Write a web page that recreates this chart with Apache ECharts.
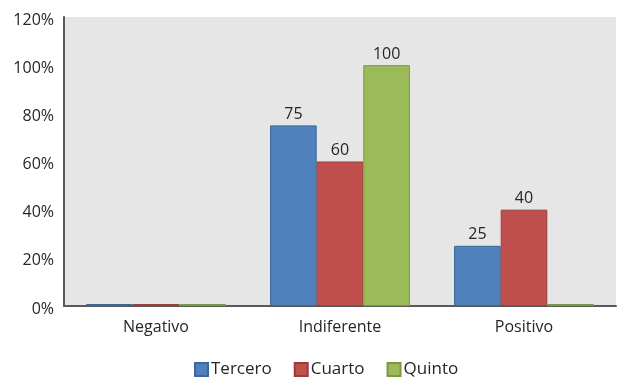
<!DOCTYPE html>
<html>
<head>
<meta charset="utf-8">
<script src="https://cdn.jsdelivr.net/npm/echarts@6/dist/echarts.min.js"></script>
<style>
  html, body { margin: 0; padding: 0; background: #fff; }
  #chart { width: 617px; height: 378px; }
</style>
</head>
<body>
<div id="chart"></div>
<script>
const categories = ['Negativo', 'Indiferente', 'Positivo']
const tercero = [0, 75, 25]
const cuarto = [0, 60, 40]
const quinto = [0, 100, 0]

const FONT = 'Open Sans'
const TEXT = '#262626'

const chart = echarts.init(document.getElementById('chart'))

const makeSeries = (name, data, color, border) => ({
  name,
  type: 'bar',
  data,
  barGap: '0%',
  barCategoryGap: '24%',
  barMinHeight: 2,
  itemStyle: { color, borderColor: border, borderWidth: 1 },
  label: {
    show: true,
    position: 'top',
    distance: 3,
    color: TEXT,
    fontFamily: FONT,
    fontSize: 16,
    formatter: (p) => (p.value === 0 ? '' : p.value)
  }
})

chart.setOption({
  animation: false,
  textStyle: { fontFamily: FONT },
  grid: {
    left: 64,
    right: 1,
    top: 17,
    bottom: 72,
    show: true,
    backgroundColor: '#e6e6e6',
    borderWidth: 0
  },
  legend: {
    top: 356,
    left: 189,
    itemWidth: 13,
    itemHeight: 13,
    itemGap: 22,
    icon: 'rect',
    textStyle: { color: TEXT, fontFamily: FONT, fontSize: 17, padding: [0, 0, 0, -2] },
    data: ['Tercero', 'Cuarto', 'Quinto']
  },
  xAxis: {
    type: 'category',
    data: categories,
    axisTick: { show: false },
    axisLine: { lineStyle: { color: '#595959', width: 2 } },
    axisLabel: { color: TEXT, fontFamily: FONT, fontSize: 16, margin: 13 }
  },
  yAxis: {
    type: 'value',
    min: 0,
    max: 120,
    interval: 20,
    splitLine: { show: false },
    axisTick: { show: false },
    axisLine: { show: true, lineStyle: { color: '#595959', width: 2 } },
    axisLabel: {
      color: TEXT,
      fontFamily: FONT,
      fontSize: 16,
      margin: 10,
      formatter: '{a|{value}%}',
      rich: { a: { fontFamily: FONT, fontSize: 16, color: TEXT, padding: [6, 0, 0, 0] } }
    }
  },
  series: [
    makeSeries('Tercero', tercero, '#4f81bd', '#3c679a'),
    makeSeries('Cuarto', cuarto, '#c0504d', '#9c3d3a'),
    makeSeries('Quinto', quinto, '#9bbb59', '#7a9a40')
  ]
})
</script>
</body>
</html>
